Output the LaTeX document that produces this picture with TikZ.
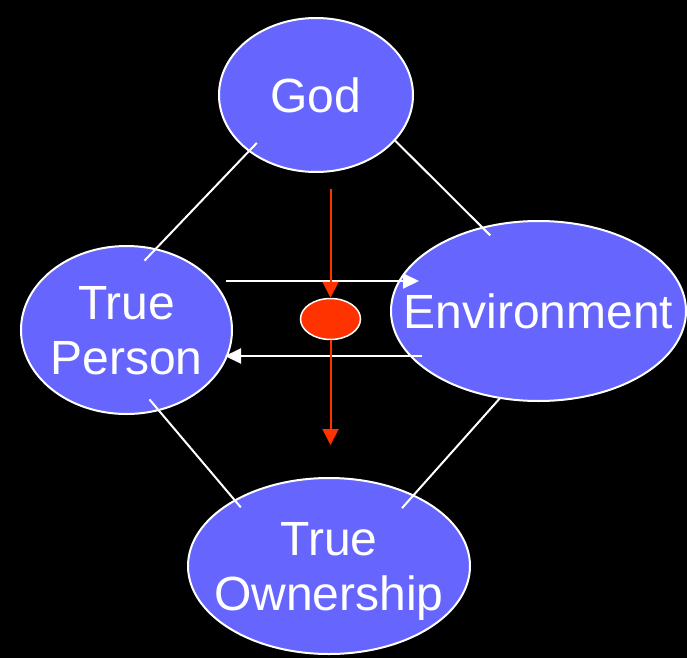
\documentclass[tikz,border=0pt]{standalone}
\usepackage{fontspec}
\setmainfont{Liberation Sans}
\usepackage{xcolor}
\usetikzlibrary{arrows.meta,shapes.geometric}
\definecolor{bubble}{HTML}{6666FF}
\definecolor{dotred}{HTML}{FF3300}

\begin{document}
\begin{tikzpicture}[x=1pt, y=-1pt, font=\fontsize{48}{55}\selectfont,
  lbl/.style={text=white, align=center, inner sep=0pt, text depth=0pt},
  bub/.style={ellipse, draw=white, line width=2pt, fill=bubble, inner sep=0pt, label={[lbl]center:#1}},
  link/.style={draw=white, line width=2pt},
  warr/.style={white, line width=2pt, -{Triangle[length=16pt, width=15pt]}},
  rarr/.style={dotred, line width=2pt, -{Triangle[length=16pt, width=16pt]}}]
  \useasboundingbox (0,0) rectangle (687,658);
  \fill[black] (0,0) rectangle (687,658);
  \node[bub={God}, minimum width=194pt, minimum height=154pt] (god) at (316,95) {};
  \node[bub={True\\Person}, minimum width=211pt, minimum height=168pt] (tp) at (126.5,330) {};
  \node[bub={Environment}, minimum width=295pt, minimum height=180pt] (env) at (538.5,311) {};
  \node[bub={True\\Ownership}, minimum width=282pt, minimum height=176pt] (own) at (329,566) {};
  \node[ellipse, draw=white, line width=1.5pt, fill=dotred, inner sep=0pt,
        minimum width=60pt, minimum height=41pt] (dot) at (330.5,319) {};
  % square of links
  \draw[link, shorten <=-12pt, shorten >=-17pt] (god.220) -- (tp.70);
  \draw[link, shorten <=-2pt, shorten >=-12pt] (god.330) -- (env.124);
  \draw[link, shorten <=-15pt, shorten >=-10pt] (tp.292) -- (own.145);
  \draw[link, shorten <=-1pt, shorten >=-18pt] (env.246) -- (own.40);
  % exchange between person and environment
  \draw[warr] ([xshift=-7pt, yshift=49pt]tp.east) -- ([xshift=29pt, yshift=30pt]env.west);
  \draw[warr] ([xshift=32pt, yshift=-45pt]env.west) -- ([xshift=-8pt, yshift=-26pt]tp.east);
  % downward flow
  \coordinate (drop) at (330.5,189);
  \coordinate (sink) at (330.5,445);
  \draw[rarr] (drop) -- (dot.north);
  \draw[rarr] (dot.south) -- (sink);
\end{tikzpicture}
\end{document}
